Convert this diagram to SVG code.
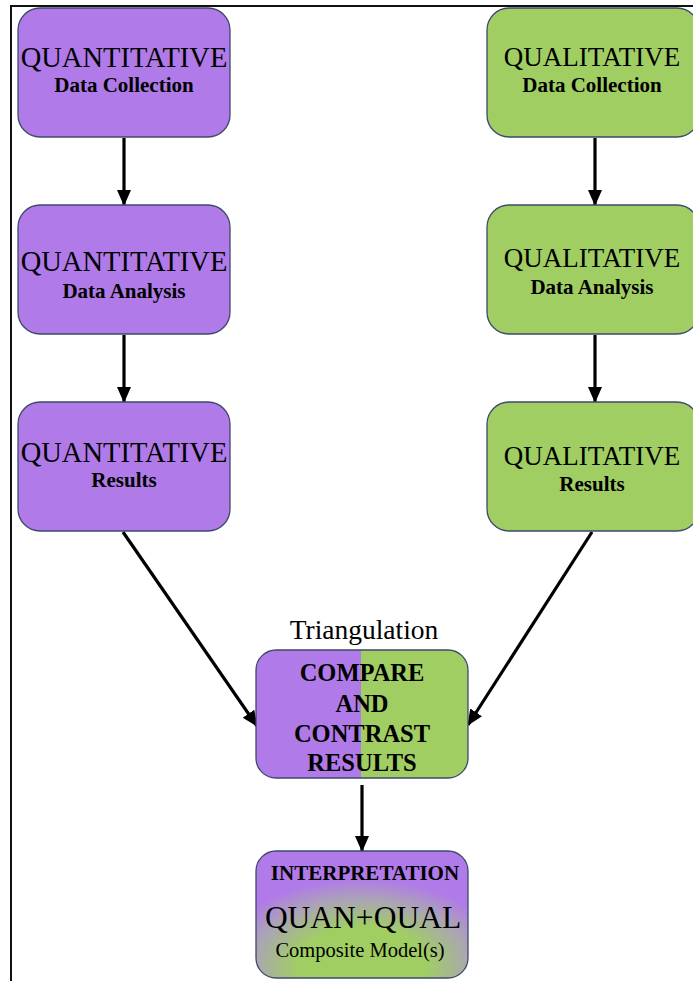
<svg xmlns="http://www.w3.org/2000/svg" width="693" height="981" viewBox="0 0 693 981">
<style>
.box{stroke:#3d4a6b;stroke-width:1.3}
.qn{fill:#b07ae9}
.ql{fill:#a0ce63}
.t{font-family:"Liberation Serif","Times New Roman",serif;fill:#000;text-anchor:middle}
.b{font-weight:bold}
.conn line{stroke:#000;stroke-width:3.2}
</style>
<defs>
<marker id="ah" markerUnits="userSpaceOnUse" markerWidth="16" markerHeight="16" viewBox="0 0 16 16" refX="15" refY="8" orient="auto">
<path d="M0,1 L16,8 L0,15 Z" fill="#000"/>
</marker>
<linearGradient id="split" x1="0" y1="0" x2="1" y2="0">
<stop offset="0" stop-color="#b07ae9"/>
<stop offset="0.493" stop-color="#b07ae9"/>
<stop offset="0.497" stop-color="#a0ce63"/>
<stop offset="1" stop-color="#a0ce63"/>
</linearGradient>
<radialGradient id="mix" cx="0.5" cy="0.9" r="0.72">
<stop offset="0" stop-color="#a0ce63"/>
<stop offset="0.42" stop-color="#a0ce63"/>
<stop offset="0.72" stop-color="#aba4b5"/>
<stop offset="0.95" stop-color="#b07ae9"/>
</radialGradient>
</defs>
<rect width="693" height="981" fill="#fff"/>
<g id="frame">
<line x1="10" y1="6" x2="693" y2="6" stroke="#111" stroke-width="2"/>
<line x1="11" y1="5" x2="11" y2="981" stroke="#111" stroke-width="2"/>
</g>
<g class="conn" id="connectors">
<line x1="124" y1="138" x2="124" y2="205" marker-end="url(#ah)"/>
<line x1="124" y1="335" x2="124" y2="402" marker-end="url(#ah)"/>
<line x1="595" y1="138" x2="595" y2="205" marker-end="url(#ah)"/>
<line x1="595" y1="335" x2="595" y2="402" marker-end="url(#ah)"/>
<line x1="123" y1="532" x2="257" y2="726" marker-end="url(#ah)"/>
<line x1="592" y1="532" x2="468" y2="725" marker-end="url(#ah)"/>
<line x1="362" y1="785" x2="362" y2="851" marker-end="url(#ah)"/>
</g>
<g id="quan-collect">
<rect class="box qn" x="18" y="8" width="212" height="129" rx="22"/>
<text class="t" x="124" y="67" font-size="28.5">QUANTITATIVE</text>
<text class="t b" x="124" y="92" font-size="21">Data Collection</text>
</g>
<g id="quan-analysis">
<rect class="box qn" x="18" y="205" width="212" height="129" rx="22"/>
<text class="t" x="124" y="271" font-size="28.5">QUANTITATIVE</text>
<text class="t b" x="124" y="298" font-size="21">Data Analysis</text>
</g>
<g id="quan-results">
<rect class="box qn" x="18" y="402" width="212" height="129" rx="22"/>
<text class="t" x="124" y="462" font-size="28.5">QUANTITATIVE</text>
<text class="t b" x="124" y="487" font-size="21">Results</text>
</g>
<g id="qual-collect">
<rect class="box ql" x="487" y="8" width="212" height="129" rx="22"/>
<text class="t" x="592" y="66" font-size="27">QUALITATIVE</text>
<text class="t b" x="592" y="92" font-size="21">Data Collection</text>
</g>
<g id="qual-analysis">
<rect class="box ql" x="487" y="205" width="212" height="129" rx="22"/>
<text class="t" x="592" y="267" font-size="27">QUALITATIVE</text>
<text class="t b" x="592" y="294" font-size="21">Data Analysis</text>
</g>
<g id="qual-results">
<rect class="box ql" x="487" y="402" width="212" height="129" rx="22"/>
<text class="t" x="592" y="465" font-size="27">QUALITATIVE</text>
<text class="t b" x="592" y="491" font-size="21">Results</text>
</g>
<g id="compare">
<text class="t" x="364" y="639" font-size="27.5">Triangulation</text>
<rect class="box" fill="url(#split)" x="256" y="650" width="212" height="128" rx="20"/>
<text class="t b" x="362" y="681" font-size="24.5">COMPARE</text>
<text class="t b" x="362" y="712" font-size="24.5">AND</text>
<text class="t b" x="362" y="742" font-size="24.5">CONTRAST</text>
<text class="t b" x="362" y="771" font-size="24.5">RESULTS</text>
</g>
<g id="interpretation">
<rect class="box" fill="url(#mix)" x="256" y="851" width="212" height="127" rx="20"/>
<text class="t b" x="365" y="880" font-size="21">INTERPRETATION</text>
<text class="t" x="363" y="928" font-size="31.5">QUAN+QUAL</text>
<text class="t" x="360" y="957" font-size="20.5">Composite Model(s)</text>
</g>
</svg>
